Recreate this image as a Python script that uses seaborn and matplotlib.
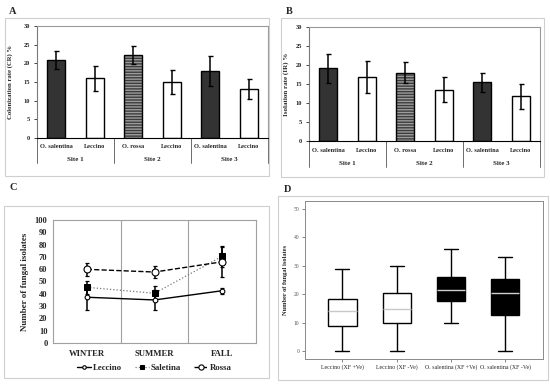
import numpy as np
import pandas as pd
import matplotlib
matplotlib.use("Agg")
import matplotlib.pyplot as plt
import matplotlib.patches as mpatches
import matplotlib.transforms as mtrans
import seaborn as sns

# ---------------- data ----------------
sites = ["Site 1", "Site 2", "Site 3"]
cultivars = ["O. salentina", "Leccino", "O. rossa", "Leccino", "O. salentina", "Leccino"]
bar_site = ["Site 1", "Site 1", "Site 2", "Site 2", "Site 3", "Site 3"]
cr_values = [20.9, 16.0, 22.2, 15.1, 18.0, 13.2]
cr_errors = [2.4, 3.3, 2.5, 3.2, 4.0, 2.7]
ir_values = [19.1, 16.8, 18.0, 13.5, 15.4, 11.8]
ir_errors = [3.9, 4.2, 2.7, 3.3, 2.4, 3.3]
bar_colors = ["#333333", "white", "#3c3c3c", "white", "#333333", "white"]

seasons = ["WINTER", "SUMMER", "FALL"]
leccino_n = [37.2, 35.0, 42.5]
leccino_err = [10.0, 8.0, 2.5]
saletina_n = [45.3, 40.4, 70.5]
saletina_err = [5.4, 6.0, 8.5]
rossa_n = [59.9, 57.7, 66.0]
rossa_err = [5.4, 5.0, 12.0]

box_labels = ["Leccino (XF +Ve)", "Leccino (XF -Ve)", "O. salentina (XF +Ve)", "O. salentina (XF -Ve)"]
box_whislo = [0, 0, 10, 0]
box_q1 = [9.0, 10.0, 17.8, 12.9]
box_med = [14.1, 14.7, 21.6, 20.5]
box_q3 = [18.5, 20.5, 25.9, 25.4]
box_whishi = [29, 30, 36, 33]
box_colors = ["white", "white", "black", "black"]
box_median_colors = ["#c8c8c8", "#c8c8c8", "#d0d0d0", "#d0d0d0"]

# ---------------- style ----------------
sns.set_theme(style="white")
plt.rcParams["font.family"] = ["Liberation Serif", "DejaVu Serif"]
SERIF = "Liberation Serif"

W, H = 550, 386
fig = plt.figure(figsize=(W / 100, H / 100), dpi=100)
fig.patch.set_facecolor("white")


def rect(l, t, r, b):
    return [l / W, 1 - b / H, (r - l) / W, (b - t) / H]


def frame(l, t, r, b):
    fig.patches.append(mpatches.Rectangle((l / W, 1 - b / H), (r - l) / W, (b - t) / H,
                                          transform=fig.transFigure, fill=False,
                                          edgecolor="#cfcfcf", lw=0.8))


def letter(x, y, s):
    fig.text(x / W, 1 - y / H, s, fontsize=7.5, fontweight="bold", family=SERIF,
             ha="center", va="center")


# frames and letters
frame(5, 18, 269, 176)
frame(281, 18, 544, 177)
frame(4, 206, 269, 378)
frame(278, 196, 548, 380)
letter(13, 11, "A")
letter(289, 11, "B")
letter(13, 188, "C")
letter(288, 189, "D")


def bar_panel(ax, values, errors, ylabel, lab_off, site_off, line_off, ylabel_fs, ylabel_x):
    df = pd.DataFrame({"bar": [f"{s}|{c}|{i}" for i, (s, c) in enumerate(zip(bar_site, cultivars))],
                       "val": values})
    pal = dict(zip(df["bar"], bar_colors))
    sns.barplot(data=df, x="bar", y="val", hue="bar", palette=pal, legend=False,
                edgecolor="black", linewidth=1.0, width=0.47, ax=ax, saturation=1)
    # striped O. rossa bar
    p = ax.patches[2]
    p.set_hatch("------")
    p.set_edgecolor("#9c9c9c")
    p.set_linewidth(0)
    ax.add_patch(mpatches.Rectangle(p.get_xy(), p.get_width(), p.get_height(), fill=False,
                                    edgecolor="black", lw=1.0, zorder=p.get_zorder() + 0.1))
    ax.errorbar(np.arange(len(values)), values, yerr=errors, fmt="none", ecolor="black",
                elinewidth=1.1, capsize=1.8, capthick=1.0, zorder=5)
    ax.set_xlim(-0.5, len(values) - 0.5)
    ax.set_ylim(0, 30)
    ax.set_yticks(range(0, 31, 5))
    ax.set_yticklabels([str(v) for v in range(0, 31, 5)], fontsize=4.6, fontweight="bold", family=SERIF)
    ax.set_xticks(range(len(values)))
    ax.set_xticklabels(cultivars, fontsize=4.6, fontweight="bold", family=SERIF)
    ax.tick_params(axis="x", length=0, pad=lab_off)
    ax.tick_params(axis="y", length=2, width=0.6, pad=3, left=True)
    ax.set_xlabel("")
    ax.set_ylabel(ylabel, fontsize=ylabel_fs, fontweight="bold", family=SERIF)
    ax.yaxis.set_label_coords(ylabel_x, 0.5)
    for side in ["top", "right"]:
        ax.spines[side].set_color("#9a9a9a")
        ax.spines[side].set_linewidth(0.8)
    ax.spines["left"].set_color("#7a7a7a")
    ax.spines["left"].set_linewidth(0.8)
    ax.spines["bottom"].set_color("black")
    ax.spines["bottom"].set_linewidth(0.8)
    trans = mtrans.blended_transform_factory(ax.transData, ax.transAxes)
    for k, s in enumerate(sites):
        ax.text(2 * k + 0.5, site_off, s, transform=trans, ha="center", va="center",
                fontsize=5.0, fontweight="bold", family=SERIF)
    for xb in [-0.5, 1.5, 3.5, 5.5]:
        ax.plot([xb, xb], [0, line_off], transform=trans, color="#555555", lw=0.6, clip_on=False)


axA = fig.add_axes(rect(37, 26, 268, 138))
bar_panel(axA, cr_values, cr_errors, "Colonization rate (CR) %", 4.5, -0.19, -0.225, 4.8, -0.104)
axB = fig.add_axes(rect(309, 27, 540, 141))
bar_panel(axB, ir_values, ir_errors, "Isolation rate (IR) %", 5.0, -0.195, -0.23, 5.0, -0.085)

# ---------------- panel C ----------------
axC = fig.add_axes(rect(53, 220, 256, 343))
xi = np.arange(len(seasons))
sns.lineplot(x=xi, y=leccino_n, ax=axC, color="black", lw=1.0, linestyle="-", marker="o",
             markersize=3.4, markerfacecolor="white", markeredgecolor="black", markeredgewidth=0.8,
             label="Leccino")
sns.lineplot(x=xi, y=saletina_n, ax=axC, color="#777777", lw=0.9, linestyle=":", marker="s",
             markersize=4.5, markerfacecolor="black", markeredgecolor="black",
             label="Saletina")
sns.lineplot(x=xi, y=rossa_n, ax=axC, color="black", lw=1.0, linestyle="--", marker="o",
             markersize=5, markerfacecolor="white", markeredgecolor="black", markeredgewidth=0.8,
             label="Rossa")
for vals, errs in [(leccino_n, leccino_err), (saletina_n, saletina_err), (rossa_n, rossa_err)]:
    axC.errorbar(xi, vals, yerr=errs, fmt="none", ecolor="black", elinewidth=1.1,
                 capsize=1.5, capthick=0.9, zorder=1)
for xb in [0.5, 1.5]:
    axC.axvline(xb, color="#a0a0a0", lw=0.8, zorder=0)
axC.set_xlim(-0.5, 2.5)
axC.set_ylim(0, 100)
axC.set_yticks(range(0, 101, 10))
axC.set_yticklabels([str(v) for v in range(0, 101, 10)], fontsize=6, fontweight="bold", family=SERIF)
axC.set_xticks(xi)
axC.set_xticklabels(seasons, fontsize=6.2, fontweight="bold", family=SERIF)
axC.tick_params(axis="both", length=0, pad=5)
axC.tick_params(axis="y", pad=4)
axC.set_ylabel("Number of fungal isolates", fontsize=6.5, fontweight="bold", family=SERIF, labelpad=4)
for side in axC.spines:
    axC.spines[side].set_color("#a0a0a0")
    axC.spines[side].set_linewidth(0.8)
leg = axC.legend(loc="center", bbox_to_anchor=(0.5, -0.205), ncol=3, frameon=False,
                 prop={"family": SERIF, "weight": "bold", "size": 6.3},
                 handlelength=1.6, handletextpad=0.2, columnspacing=1.5, markerscale=0.75)

# ---------------- panel D ----------------
axD = fig.add_axes(rect(305, 201, 543, 359))
stats = []
for i in range(len(box_labels)):
    stats.append({"label": box_labels[i], "whislo": box_whislo[i], "q1": box_q1[i],
                  "med": box_med[i], "q3": box_q3[i], "whishi": box_whishi[i], "fliers": []})
bp = axD.bxp(stats, positions=range(1, len(box_labels) + 1), widths=0.52, patch_artist=True,
             showfliers=False,
             boxprops=dict(edgecolor="black", linewidth=1.0),
             whiskerprops=dict(color="black", linewidth=1.0),
             capprops=dict(color="black", linewidth=1.0),
             medianprops=dict(linewidth=1.0))
for patch, c in zip(bp["boxes"], box_colors):
    patch.set_facecolor(c)
for med, c in zip(bp["medians"], box_median_colors):
    med.set_color(c)
for cap in bp["caps"]:
    xd = cap.get_xdata()
    mid = (xd[0] + xd[1]) / 2
    cap.set_xdata([mid - 0.13, mid + 0.13])
axD.set_xlim(0.31, 4.7)
axD.set_ylim(-2.7, 52.7)
axD.set_yticks(range(0, 51, 10))
axD.set_yticklabels([str(v) for v in range(0, 51, 10)], fontsize=4, color="#555555", family=SERIF)
axD.set_xticks(range(1, len(box_labels) + 1))
axD.set_xticklabels(box_labels, fontsize=4.2, family=SERIF)
axD.tick_params(axis="both", length=2, width=0.5, color="#555555", pad=2, left=True, bottom=True)
axD.set_ylabel("Number of fungal isolates", fontsize=4.6, fontweight="bold", family=SERIF, labelpad=4)
for side in axD.spines:
    axD.spines[side].set_color("#8a8a8a")
    axD.spines[side].set_linewidth(0.7)

fig.savefig("out.png", dpi=100, facecolor="white")
